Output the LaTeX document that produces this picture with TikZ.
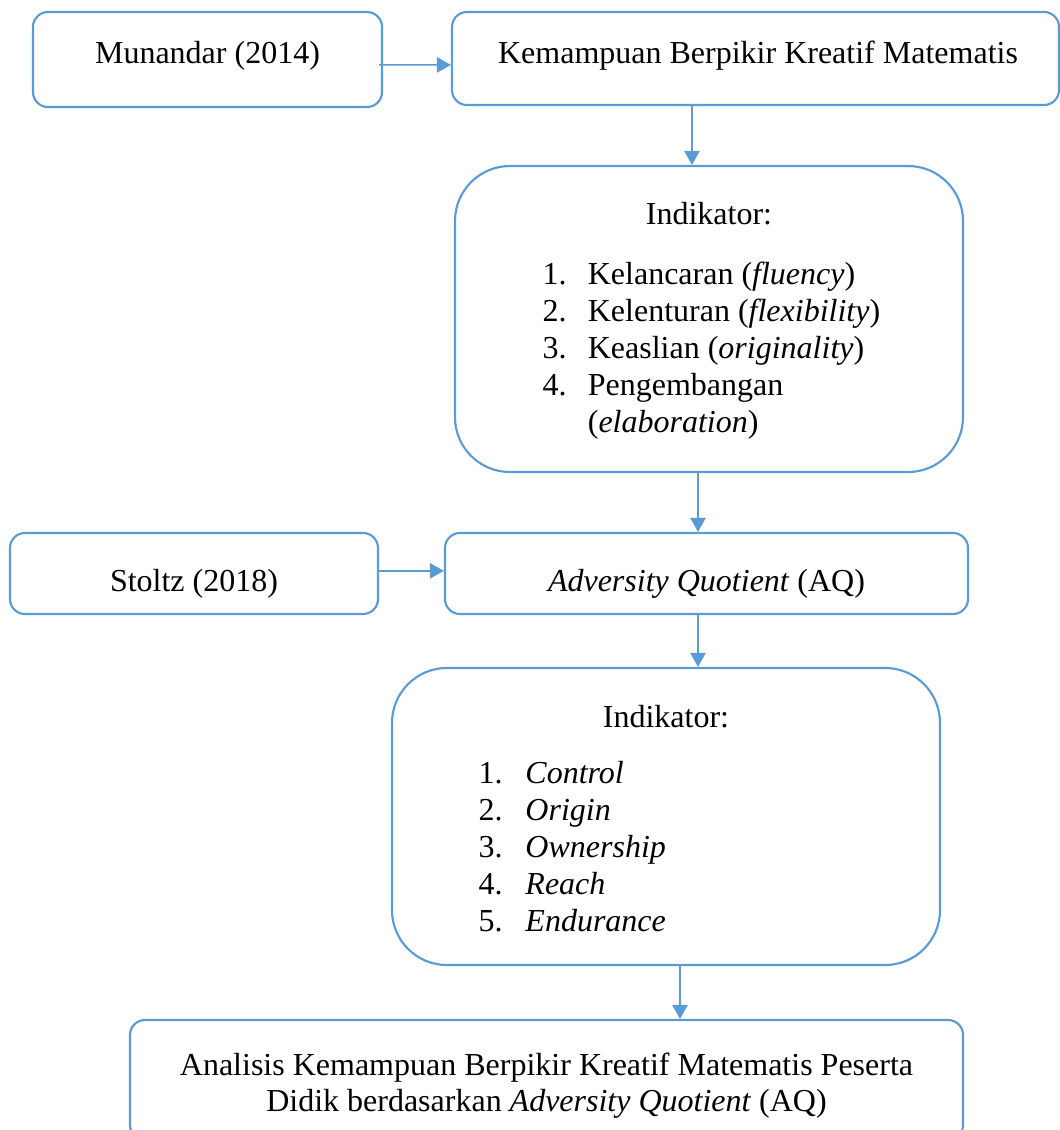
\documentclass[tikz,border=0pt]{standalone}
\usepackage{fontspec}
\setmainfont{Liberation Serif}
\usetikzlibrary{arrows.meta}
\definecolor{lineblue}{HTML}{5B9BD5}

\begin{document}
\begin{tikzpicture}[
    x=0.375pt, y=-0.375pt,
    every node/.style={font=\fontsize{12}{13.9}\selectfont, inner sep=0pt},
    smallbox/.style={rectangle, rounded corners=5.6pt, draw=lineblue,
                     line width=0.8pt},
    bigbox/.style={rectangle, rounded corners=20.6pt, draw=lineblue,
                   line width=0.8pt},
    flow/.style={-{Triangle[length=5.3pt, width=5.8pt]}, draw=lineblue,
                 line width=0.5pt},
  ]
  \useasboundingbox (0,0) rectangle (1060,1130);

  % Kreatif
  \node[smallbox, minimum width=130.9pt, minimum height=35.6pt] (mun) at (207.5,59.5) {};
  \node[anchor=base] (munT) at (207.5,63) {Munandar (2014)};
  \node[smallbox, minimum width=227.6pt, minimum height=34.9pt] (kbk) at (755.5,58.5) {};
  \node[anchor=base] (kbkT) at (758,63) {Kemampuan Berpikir Kreatif Matematis};
  \draw[flow] ([xshift=-1.5pt, yshift=-2pt]mun.east) -- ([yshift=-2.4pt]kbk.west);

  \node[bigbox, minimum width=190.5pt, minimum height=114.75pt] (ind1) at (709,319) {};
  \node[anchor=base] (ind1T) at (709,224) {Indikator:};
  \node[anchor=base west] (ind1L) at (542,284) {%
    \begin{tabular}[t]{@{}p{17pt}@{}l@{}}
      1. & Kelancaran (\textit{fluency})\\
      2. & Kelenturan (\textit{flexibility})\\
      3. & Keaslian (\textit{originality})\\
      4. & Pengembangan\\
         & (\textit{elaboration})
    \end{tabular}};
  \draw[flow] (kbk.south -| 692,0) -- (ind1.north -| 692,0);

  % Adversity Quotient
  \node[smallbox, minimum width=138pt, minimum height=30.4pt] (stz) at (194,573.5) {};
  \node[anchor=base] (stzT) at (194,591) {Stoltz (2018)};
  \node[smallbox, minimum width=196.1pt, minimum height=30.4pt] (aq) at (706.5,573.5) {};
  \node[anchor=base] (aqT) at (706.5,591) {\textit{Adversity Quotient} (AQ)};
  \draw[flow] ([yshift=1pt]stz.east) -- ([yshift=1pt]aq.west);
  \draw[flow] (ind1.south -| 698,0) -- (aq.north -| 698,0);

  \node[bigbox, minimum width=205.5pt, minimum height=111.4pt] (ind2) at (666,816.5) {};
  \node[anchor=base] (ind2T) at (666,727) {Indikator:};
  \node[anchor=base west] (ind2L) at (478,783) {%
    \begin{tabular}[t]{@{}p{17.6pt}@{}l@{}}
      1. & \textit{Control}\\
      2. & \textit{Origin}\\
      3. & \textit{Ownership}\\
      4. & \textit{Reach}\\
      5. & \textit{Endurance}
    \end{tabular}};
  \draw[flow] (aq.south -| 698,0) -- (ind2.north -| 698,0);

  % Analisis
  \node[smallbox, minimum width=312.4pt, minimum height=45pt] (fin) at (546.5,1080) {};
  \node[anchor=base] (finT1) at (546.5,1075) {Analisis Kemampuan Berpikir Kreatif Matematis Peserta};
  \node[anchor=base] (finT2) at (546.5,1111) {Didik berdasarkan \textit{Adversity Quotient} (AQ)};
  \draw[flow] (ind2.south -| 680,0) -- (fin.north -| 680,0);
\end{tikzpicture}
\end{document}
